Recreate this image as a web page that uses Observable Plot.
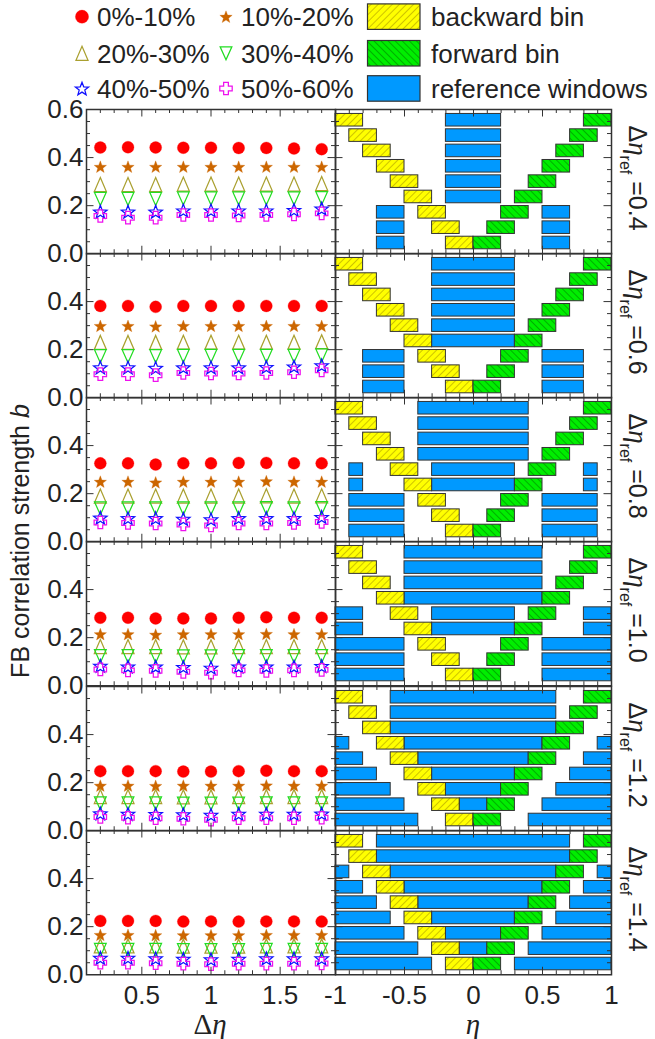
<!DOCTYPE html>
<html><head><meta charset="utf-8">
<script src="https://cdn.jsdelivr.net/npm/d3@7"></script>
<script src="https://cdn.jsdelivr.net/npm/@observablehq/plot@0.6"></script>
<style>
body{margin:0;background:#fff;}
#wrap{position:relative;width:655px;height:1039px;overflow:hidden;font-family:"Liberation Sans",Arial,sans-serif;color:#222;background:#fff;}
.lbl{position:absolute;white-space:nowrap;transform-origin:50% 50%;line-height:1;}
</style></head><body>
<svg width="0" height="0" style="position:absolute">
<defs>
<pattern id="hatchY" patternUnits="userSpaceOnUse" width="5" height="5" patternTransform="rotate(45)">
<rect width="5" height="5" fill="#ffff00"/><line x1="0.5" y1="0" x2="0.5" y2="5" stroke="#c8bc00" stroke-width="0.9"/></pattern>
<pattern id="hatchG" patternUnits="userSpaceOnUse" width="5" height="5" patternTransform="rotate(-45)">
<rect width="5" height="5" fill="#00ee00"/><line x1="0.5" y1="0" x2="0.5" y2="5" stroke="#00a800" stroke-width="0.9"/></pattern>
</defs></svg>
<div id="wrap"></div>
<script>
// ---------------- data ----------------
const deltaEta = [0.2, 0.4, 0.6, 0.8, 1.0, 1.2, 1.4, 1.6, 1.8];
const refWidths = [0.4, 0.6, 0.8, 1.0, 1.2, 1.4];
const refLabels = ["0.4", "0.6", "0.8", "1.0", "1.2", "1.4"];
const seriesNames = ["0%-10%", "10%-20%", "20%-30%", "30%-40%", "40%-50%", "50%-60%"];

// FB correlation strength b, one row per reference width (0.4 ... 1.4), 9 Δη points each
const b0010 = [
  [0.442,0.443,0.442,0.441,0.441,0.440,0.440,0.438,0.435],
  [0.382,0.382,0.378,0.382,0.382,0.382,0.382,0.382,0.382],
  [0.326,0.326,0.321,0.326,0.326,0.328,0.328,0.326,0.326],
  [0.283,0.283,0.280,0.280,0.280,0.283,0.285,0.283,0.283],
  [0.248,0.248,0.248,0.246,0.246,0.248,0.250,0.248,0.248],
  [0.224,0.224,0.224,0.221,0.222,0.221,0.222,0.222,0.221]];
const b1020 = [
  [0.362,0.362,0.362,0.362,0.362,0.362,0.362,0.362,0.362],
  [0.299,0.299,0.297,0.299,0.299,0.299,0.299,0.299,0.299],
  [0.250,0.250,0.247,0.250,0.250,0.250,0.252,0.250,0.250],
  [0.215,0.215,0.213,0.215,0.215,0.215,0.216,0.215,0.215],
  [0.188,0.188,0.187,0.188,0.188,0.188,0.189,0.188,0.188],
  [0.166,0.166,0.165,0.165,0.165,0.165,0.166,0.166,0.166]];
const b2030 = [
  [0.288,0.288,0.288,0.290,0.290,0.290,0.290,0.290,0.292],
  [0.230,0.230,0.230,0.231,0.231,0.231,0.231,0.231,0.233],
  [0.190,0.190,0.190,0.190,0.190,0.190,0.191,0.190,0.191],
  [0.163,0.163,0.163,0.162,0.162,0.163,0.163,0.163,0.163],
  [0.142,0.142,0.142,0.141,0.141,0.142,0.142,0.142,0.142],
  [0.120,0.120,0.120,0.119,0.119,0.119,0.120,0.120,0.120]];
const b3040 = [
  [0.228,0.228,0.228,0.230,0.230,0.230,0.230,0.230,0.231],
  [0.173,0.173,0.173,0.174,0.174,0.174,0.174,0.174,0.176],
  [0.139,0.139,0.139,0.139,0.139,0.139,0.140,0.139,0.140],
  [0.123,0.123,0.123,0.122,0.122,0.123,0.123,0.123,0.123],
  [0.114,0.114,0.114,0.113,0.113,0.113,0.114,0.114,0.114],
  [0.103,0.103,0.103,0.102,0.102,0.102,0.103,0.103,0.103]];
const b4050 = [
  [0.175,0.175,0.175,0.180,0.180,0.180,0.180,0.182,0.188],
  [0.126,0.126,0.124,0.126,0.126,0.126,0.128,0.130,0.135],
  [0.100,0.098,0.098,0.095,0.093,0.098,0.098,0.098,0.103],
  [0.083,0.080,0.080,0.078,0.075,0.080,0.080,0.080,0.082],
  [0.072,0.070,0.069,0.068,0.066,0.070,0.070,0.070,0.071],
  [0.070,0.070,0.068,0.066,0.064,0.066,0.068,0.068,0.068]];
const b5060 = [
  [0.157,0.150,0.150,0.161,0.161,0.159,0.161,0.164,0.168],
  [0.098,0.098,0.094,0.103,0.101,0.101,0.103,0.106,0.114],
  [0.080,0.078,0.076,0.072,0.068,0.076,0.076,0.078,0.082],
  [0.068,0.064,0.062,0.058,0.054,0.064,0.062,0.064,0.066],
  [0.057,0.054,0.052,0.050,0.046,0.052,0.052,0.052,0.054],
  [0.050,0.050,0.048,0.046,0.044,0.046,0.046,0.046,0.047]];

// η intervals of the backward / forward bins for each Δη row (0.2 ... 1.8)
const backwardBins = [[-0.2,0],[-0.3,-0.1],[-0.4,-0.2],[-0.5,-0.3],[-0.6,-0.4],[-0.7,-0.5],[-0.8,-0.6],[-0.9,-0.7],[-1,-0.8]];
const forwardBins = [[0,0.2],[0.1,0.3],[0.2,0.4],[0.3,0.5],[0.4,0.6],[0.5,0.7],[0.6,0.8],[0.7,0.9],[0.8,1]];

// reference windows for each Δη row (0.2 ... 1.8), one list per reference width
const refWin04 = [
  [[-0.7,-0.5],[0.5,0.7]], [[-0.7,-0.5],[0.5,0.7]], [[-0.7,-0.5],[0.5,0.7]],
  [[-0.2,0.2]], [[-0.2,0.2]], [[-0.2,0.2]], [[-0.2,0.2]], [[-0.2,0.2]], [[-0.2,0.2]]];
const refWin06 = [
  [[-0.8,-0.5],[0.5,0.8]], [[-0.8,-0.5],[0.5,0.8]], [[-0.8,-0.5],[0.5,0.8]],
  [[-0.3,0.3]], [[-0.3,0.3]], [[-0.3,0.3]], [[-0.3,0.3]], [[-0.3,0.3]], [[-0.3,0.3]]];
const refWin08 = [
  [[-0.9,-0.5],[0.5,0.9]], [[-0.9,-0.5],[0.5,0.9]], [[-0.9,-0.5],[0.5,0.9]],
  [[-0.9,-0.8],[-0.3,0.3],[0.8,0.9]], [[-0.9,-0.8],[-0.3,0.3],[0.8,0.9]],
  [[-0.4,0.4]], [[-0.4,0.4]], [[-0.4,0.4]], [[-0.4,0.4]]];
const refWin10 = [
  [[-1,-0.5],[0.5,1]], [[-1,-0.5],[0.5,1]], [[-1,-0.5],[0.5,1]],
  [[-1,-0.8],[-0.3,0.3],[0.8,1]], [[-1,-0.8],[-0.3,0.3],[0.8,1]],
  [[-0.5,0.5]], [[-0.5,0.5]], [[-0.5,0.5]], [[-0.5,0.5]]];
const refWin12 = [
  [[-1,-0.4],[0.4,1]], [[-1,-0.5],[-0.1,0.1],[0.5,1]], [[-1,-0.6],[-0.2,0.2],[0.6,1]],
  [[-1,-0.7],[-0.3,0.3],[0.7,1]], [[-1,-0.8],[-0.4,0.4],[0.8,1]], [[-1,-0.9],[-0.5,0.5],[0.9,1]],
  [[-0.6,0.6]], [[-0.6,0.6]], [[-0.6,0.6]]];
const refWin14 = [
  [[-1,-0.3],[0.3,1]], [[-1,-0.4],[-0.1,0.1],[0.4,1]], [[-1,-0.5],[-0.2,0.2],[0.5,1]],
  [[-1,-0.6],[-0.3,0.3],[0.6,1]], [[-1,-0.7],[-0.4,0.4],[0.7,1]], [[-1,-0.8],[-0.5,0.5],[0.8,1]],
  [[-1,-0.9],[-0.6,0.6],[0.9,1]], [[-0.7,0.7]], [[-0.7,0.7]]];

// tick values
const yLabelTicks = [0, 0.2, 0.4];
const yLabelTicksTop = [0, 0.2, 0.4, 0.6];
const yMajorTicks = [0.2, 0.4];
const yMinorTicks = [0.05, 0.1, 0.15, 0.25, 0.3, 0.35, 0.45, 0.5, 0.55];
const xLabelTicksL = [0.5, 1, 1.5];
const xMajorTicksL = [0.5, 1, 1.5];
const xMinorTicksL = [0.2, 0.3, 0.4, 0.6, 0.7, 0.8, 0.9, 1.1, 1.2, 1.3, 1.4, 1.6, 1.7, 1.8];
const xLabelTicksR = [-1, -0.5, 0, 0.5, 1];
const xMajorTicksR = [-0.5, 0, 0.5];
const xMinorTicksR = [-0.9, -0.8, -0.7, -0.6, -0.4, -0.3, -0.2, -0.1, 0.1, 0.2, 0.3, 0.4, 0.6, 0.7, 0.8, 0.9];

// ---------------- styles ----------------
const seriesColors = ["#ff0000", "#cc6600", "#aaa030", "#22dd22", "#1010ff", "#ee11ee"];
const seriesFilled = [true, true, false, false, false, false];
const seriesR = [6, 6.5, 7, 6.5, 7, 6.2];
const binColors = {window: "#0099ff", backward: "url(#hatchY)", forward: "url(#hatchG)"};

function starSym(inner) {
  return {draw(ctx, size) {
    const r = Math.sqrt(size / Math.PI), off = r * 0.095;
    for (let k = 0; k < 10; k++) {
      const a = -Math.PI / 2 + k * Math.PI / 5, rr = k % 2 ? r * inner : r;
      const x = rr * Math.cos(a), y = rr * Math.sin(a) + off;
      k ? ctx.lineTo(x, y) : ctx.moveTo(x, y);
    }
    ctx.closePath();
  }};
}
const triUp = {draw(ctx, size) { const r = Math.sqrt(size / Math.PI); ctx.moveTo(0, -r); ctx.lineTo(0.86 * r, r); ctx.lineTo(-0.86 * r, r); ctx.closePath(); }};
const triDown = {draw(ctx, size) { const r = Math.sqrt(size / Math.PI); ctx.moveTo(0, r); ctx.lineTo(0.9 * r, -r); ctx.lineTo(-0.9 * r, -r); ctx.closePath(); }};
const crossSym = {draw(ctx, size) {
  const a = Math.sqrt(size / Math.PI), w = 0.38 * a;
  const pts = [[-w,-a],[w,-a],[w,-w],[a,-w],[a,w],[w,w],[w,a],[-w,a],[-w,w],[-a,w],[-a,-w],[-w,-w]];
  pts.forEach(([x, y], i) => i ? ctx.lineTo(x, y) : ctx.moveTo(x, y));
  ctx.closePath();
}};
const seriesSymbols = ["circle", starSym(0.42), triUp, triDown, starSym(0.42), crossSym];
const bValues = [b0010, b1020, b2030, b3040, b4050, b5060];
const refWindowSets = [refWin04, refWin06, refWin08, refWin10, refWin12, refWin14];

// ---------------- layout ----------------
const wrap = document.getElementById("wrap");
const top0 = 108.5, panelH = 144.25, Lx0 = 86, Lw = 249, Rx0 = 335, Rw = 276;
const rowHalf = 0.082, yR = [0.06, 1.94];
const svgStyle = {background: "transparent", overflow: "visible", maxWidth: "none", fontFamily: "'Liberation Sans', Arial, sans-serif", color: "#222"};
function place(svg, left, top) {
  svg.style.position = "absolute"; svg.style.left = left + "px"; svg.style.top = top + "px";
  wrap.appendChild(svg);
}
function edgeTicks(W, H, xMinor, xMajor, yMinor, yMajor) {
  const st = {stroke: "#333", strokeWidth: 1};
  const mn = 4, mj = 7.5;
  return [
    Plot.tickX(xMinor, {x: d => d, insetBottom: H - mn, ...st}),
    Plot.tickX(xMinor, {x: d => d, insetTop: H - mn, ...st}),
    Plot.tickX(xMajor, {x: d => d, insetBottom: H - mj, ...st}),
    Plot.tickX(xMajor, {x: d => d, insetTop: H - mj, ...st}),
    Plot.tickY(yMinor, {y: d => d, insetRight: W - mn, ...st}),
    Plot.tickY(yMinor, {y: d => d, insetLeft: W - mn, ...st}),
    Plot.tickY(yMajor, {y: d => d, insetRight: W - mj, ...st}),
    Plot.tickY(yMajor, {y: d => d, insetLeft: W - mj, ...st})
  ];
}
const toRowPos = b => yR[0] + b / 0.6 * (yR[1] - yR[0]);

refWidths.forEach((ref, p) => {
  const top = top0 + p * panelH;
  const isTop = p === 0, isBottom = p === refWidths.length - 1;

  // ---- left panel: b vs Δη ----
  const lm = [];
  seriesNames.forEach((name, s) => {
    const pts = deltaEta.map((de, i) => ({deta: de, b: bValues[s][p][i]}));
    lm.push(Plot.dot(pts, {
      x: "deta", y: "b", symbol: seriesSymbols[s], r: seriesR[s],
      fill: seriesFilled[s] ? seriesColors[s] : "none",
      stroke: seriesColors[s], strokeWidth: seriesFilled[s] ? 0.3 : 1.25
    }));
  });
  lm.push(...edgeTicks(Lw, panelH, xMinorTicksL, xMajorTicksL, yMinorTicks, yMajorTicks));
  lm.push(Plot.frame({stroke: "#333", strokeWidth: 1.5}));
  lm.push(Plot.axisY(isTop ? yLabelTicksTop : yLabelTicks, {tickFormat: d3.format(".1f"), tickSize: 0, tickPadding: 3, fontSize: 26, label: null}));
  if (isBottom) lm.push(Plot.axisX(xLabelTicksL, {tickFormat: d => String(d), tickSize: 0, tickPadding: 11, fontSize: 26, label: null}));
  const left = Plot.plot({
    width: Lw, height: panelH, margin: 0, style: svgStyle,
    x: isBottom ? {domain: [0.1, 1.9]} : {domain: [0.1, 1.9], axis: null},
    y: {domain: [0, 0.6]},
    marks: lm
  });
  place(left, Lx0, top);

  // ---- right panel: η windows ----
  const wins = [], bwd = [], fwd = [];
  refWindowSets[p].forEach((ivs, r) => ivs.forEach(([a, b]) => wins.push({deta: deltaEta[r], x1: a, x2: b})));
  backwardBins.forEach(([a, b], r) => bwd.push({deta: deltaEta[r], x1: a, x2: b}));
  forwardBins.forEach(([a, b], r) => fwd.push({deta: deltaEta[r], x1: a, x2: b}));
  const rectOpts = fill => ({x1: "x1", x2: "x2", y1: d => d.deta - rowHalf, y2: d => d.deta + rowHalf, fill, stroke: "#333", strokeWidth: 1});
  const rm = [
    Plot.rect(wins, rectOpts(binColors.window)),
    Plot.rect(bwd, rectOpts(binColors.backward)),
    Plot.rect(fwd, rectOpts(binColors.forward)),
    ...edgeTicks(Rw, panelH, xMinorTicksR, xMajorTicksR, yMinorTicks.map(toRowPos), yMajorTicks.map(toRowPos)),
    Plot.frame({stroke: "#333", strokeWidth: 1.5})
  ];
  if (isBottom) rm.push(Plot.axisX(xLabelTicksR, {tickFormat: d => String(d), tickSize: 0, tickPadding: 11, fontSize: 26, label: null}));
  const right = Plot.plot({
    width: Rw, height: panelH, margin: 0, style: svgStyle,
    x: isBottom ? {domain: [-1, 1]} : {domain: [-1, 1], axis: null},
    y: {domain: yR, axis: null},
    marks: rm
  });
  place(right, Rx0, top);

  // ---- Δη_ref label ----
  const lab = document.createElement("div");
  lab.className = "lbl";
  lab.style.cssText += `left:637px;top:${top + panelH / 2 - 3}px;font-size:25px;line-height:22px;transform:translate(-50%,-50%) rotate(90deg);`;
  lab.innerHTML = `Δ<span style="font-family:'Liberation Serif',serif;font-style:italic;font-size:27px;line-height:0">η</span><span style="font-size:16px;vertical-align:-0.6em;line-height:0">ref</span> =${refLabels[p]}`;
  wrap.appendChild(lab);
});

// ---------------- axis titles ----------------
function addLabel(html, x, y, css) {
  const d = document.createElement("div");
  d.className = "lbl";
  d.style.cssText += `left:${x}px;top:${y}px;` + css;
  d.innerHTML = html;
  wrap.appendChild(d);
}
addLabel(`FB correlation strength <span style="font-style:italic">b</span>`, 20, 541, "font-size:25px;transform:translate(-50%,-50%) rotate(-90deg);");
addLabel(`Δ<span style="font-style:italic">η</span>`, 210, 1024, "font-family:'Liberation Serif',serif;font-size:29px;transform:translate(-50%,-50%);");
addLabel(`<span style="font-style:italic">η</span>`, 473, 1024, "font-family:'Liberation Serif',serif;font-size:29px;transform:translate(-50%,-50%);");

// ---------------- legend ----------------
const leg = d3.select(wrap).append("svg").attr("width", 655).attr("height", 106)
  .style("position", "absolute").style("left", "0px").style("top", "0px")
  .style("font-family", "'Liberation Sans', Arial, sans-serif");
const rowY = [16.7, 53.3, 88.5];
const colSymX = [82, 226], colTextX = [97, 241];
seriesNames.forEach((name, s) => {
  const cx = colSymX[s % 2], cy = rowY[Math.floor(s / 2)];
  const r = seriesR[s] + (s === 0 ? 0.6 : 0);
  let el;
  if (seriesSymbols[s] === "circle") {
    el = leg.append("circle").attr("cx", cx).attr("cy", cy).attr("r", r);
  } else {
    const pth = d3.path(); seriesSymbols[s].draw(pth, r * r * Math.PI);
    el = leg.append("path").attr("d", pth.toString()).attr("transform", `translate(${cx},${cy})`);
  }
  el.attr("fill", seriesFilled[s] ? seriesColors[s] : "none").attr("stroke", seriesColors[s]).attr("stroke-width", seriesFilled[s] ? 0.3 : 1.25);
  leg.append("text").attr("x", colTextX[s % 2]).attr("y", cy + 9.3).attr("font-size", 26).attr("fill", "#222").text(name);
});
const boxNames = ["backward bin", "forward bin", "reference windows"];
const boxFills = [binColors.backward, binColors.forward, binColors.window];
boxNames.forEach((name, k) => {
  const cy = rowY[k];
  leg.append("rect").attr("x", 367.5).attr("y", cy - 12.8).attr("width", 52.5).attr("height", 25.5)
    .attr("fill", boxFills[k]).attr("stroke", "#333").attr("stroke-width", 1.2);
  leg.append("text").attr("x", 431).attr("y", cy + 9.3).attr("font-size", 26).attr("fill", "#222").text(name);
});
</script>
</body></html>
